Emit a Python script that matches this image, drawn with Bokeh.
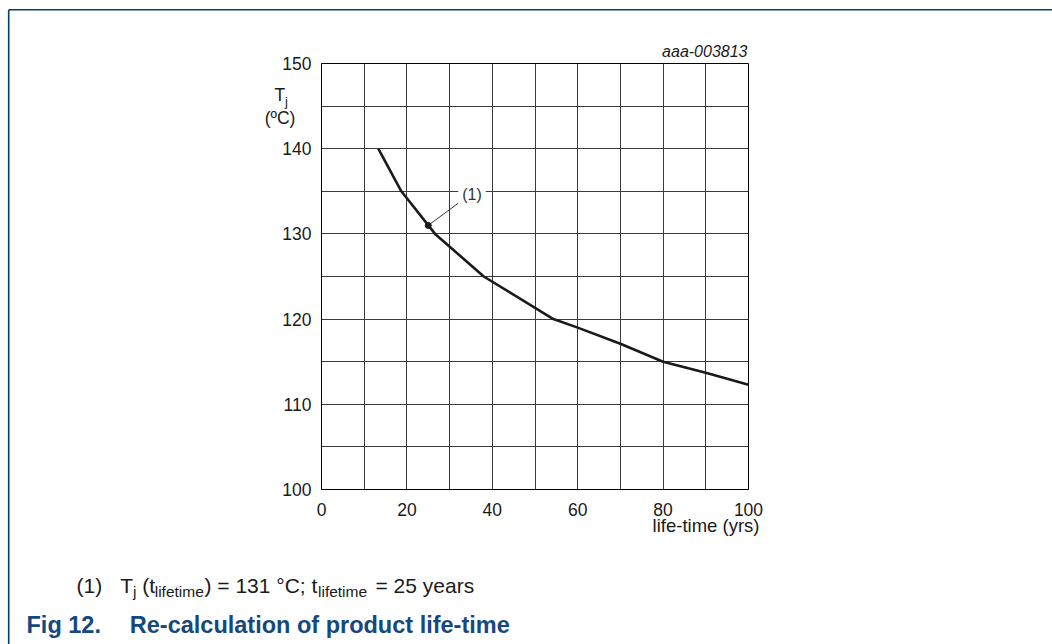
from bokeh.plotting import figure
from bokeh.layouts import column
from bokeh.models import Range1d, FixedTicker, Label
from bokeh.embed import file_html
from bokeh.resources import INLINE

# Junction temperature vs. product life-time
life_years = [13.3, 18.7, 26.6, 38.0, 54.3, 60.0, 70.0, 80.0, 90.0, 100.0]
tj_celsius = [140.0, 135.0, 130.0, 125.0, 120.0, 119.0, 117.1, 115.0, 113.7, 112.3]

# Marked operating point (1)
point_years = [25]
point_tj = [131]

x_ticks = [0, 20, 40, 60, 80, 100]
y_ticks = [100, 110, 120, 130, 140, 150]
x_grid = [0, 10, 20, 30, 40, 50, 60, 70, 80, 90, 100]
y_grid = [100, 105, 110, 115, 120, 125, 130, 135, 140, 145, 150]

FONT = "Liberation Sans"
BLUE = "#15487e"
INK = "#1a1a1a"
W, H = 1052, 644
L, R, T, B = 321, 748, 63, 489
X0, X1, Y0, Y1 = 0, 100, 100, 150


def sx(px):
    return X0 + (px - L) * (X1 - X0) / (R - L)


def sy(py):
    return Y1 - (py - T) * (Y1 - Y0) / (B - T)


# ---- chart ----
p = figure(width=W, height=H, output_backend="svg", toolbar_location=None,
           x_range=Range1d(X0, X1), y_range=Range1d(Y0, Y1),
           min_border_left=L, min_border_right=W - R,
           min_border_top=T, min_border_bottom=H - B)
p.frame_align = False
p.background_fill_color = "white"
p.border_fill_color = "white"
p.outline_line_color = "black"
p.outline_line_width = 1

for ax, ticks in ((p.xaxis[0], x_ticks), (p.yaxis[0], y_ticks)):
    ax.ticker = FixedTicker(ticks=ticks)
    ax.axis_line_color = "black"
    ax.axis_line_width = 1
    ax.major_tick_line_color = None
    ax.minor_tick_line_color = None
    ax.major_tick_out = 0
    ax.major_tick_in = 0
    ax.major_label_text_font = FONT
    ax.major_label_text_font_size = "17.5px"
    ax.major_label_text_color = INK
p.xaxis[0].major_label_standoff = 13
p.yaxis[0].major_label_standoff = 10

p.xgrid[0].ticker = FixedTicker(ticks=x_grid)
p.ygrid[0].ticker = FixedTicker(ticks=y_grid)
for g in (p.xgrid[0], p.ygrid[0]):
    g.grid_line_color = "#3a3a3a"
    g.grid_line_width = 1
    g.grid_line_alpha = 1.0

# curve
p.line(life_years, tj_celsius, line_color=INK, line_width=2.6)

# leader line and marked point
p.segment(x0=point_years, y0=point_tj, x1=[sx(458)], y1=[sy(202.5)],
          line_color="#333333", line_width=1)
p.scatter(point_years, point_tj, size=6, color=INK)

p.add_layout(Label(x=sx(471.5), y=sy(193.5), text="(1)", text_font=FONT,
                   text_font_size="16px", text_color="#333333",
                   text_align="center", text_baseline="middle",
                   background_fill_color="white", padding=4))

# ---- page layer: titles, notes and page rules (pixel coordinates) ----
ov = figure(width=W, height=H, output_backend="svg", toolbar_location=None,
            x_range=Range1d(0, W), y_range=Range1d(H, 0),
            x_axis_location=None, y_axis_location=None, min_border=0)
ov.frame_align = False
ov.background_fill_color = None
ov.border_fill_color = None
ov.outline_line_color = None
ov.grid.visible = False
ov.styles = {"position": "absolute", "top": "0px", "left": "0px"}


def txt(px, base, s, size, align="left", color=INK, style="normal"):
    # place by baseline: the text is centred on its cap height
    ov.add_layout(Label(x=px, y=base - 0.35 * size, text=s, text_font=FONT,
                        text_font_size=f"{size}px", text_color=color,
                        text_align=align, text_baseline="middle",
                        text_font_style=style))


# chart code
txt(747, 56.5, "aaa-003813", 16, align="right", style="italic")

# y axis title
txt(274, 100.5, "T", 17.5)
txt(284.5, 105.5, "j", 13)
txt(279.5, 123.5, "(ºC)", 17.5, align="center")

# x axis title
txt(759, 531.8, "life-time (yrs)", 18.5, align="right")

# footnote
FB = 592.5
SB = FB + 4.2
txt(76, FB, "(1)", 21)
txt(119.7, FB, "T", 21)
txt(132.5, SB, "j", 15.5)
txt(141.7, FB, "(t", 21)
txt(154.2, SB, "lifetime", 15.5)
txt(204, FB, ") = 131 °C; t", 21)
txt(317.5, SB, "lifetime", 15.5)
txt(375, FB, "= 25 years", 21)

# figure caption
txt(26, 632.5, "Fig 12.", 23.5, color=BLUE, style="bold")
txt(129.3, 632.5, "Re-calculation of product life-time", 23.5, color=BLUE, style="bold")

# page rules
ov.segment(x0=[8.2, 8.2], y0=[9.3, 9.3], x1=[W, 8.2], y1=[9.3, H],
           line_color="#003f75", line_width=1.6)

layout = column(p, ov)
open("out.html", "w").write(file_html(layout, INLINE))
